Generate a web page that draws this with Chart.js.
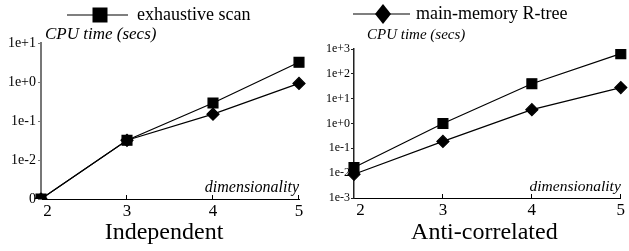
<!DOCTYPE html>
<html>
<head>
<meta charset="utf-8">
<script src="https://cdn.jsdelivr.net/npm/chart.js@4/dist/chart.umd.min.js"></script>
<style>
  html, body { margin: 0; padding: 0; background: #fff; }
  #wrap { position: relative; width: 629px; height: 251px; overflow: hidden; }
  canvas { position: absolute; top: 0; }
  #left { left: 0; }
  #right { left: 314px; }
</style>
</head>
<body>
<div id="wrap">
  <canvas id="left" width="314" height="251"></canvas>
  <canvas id="right" width="315" height="251"></canvas>
</div>
<script>
const dimensions = ['2', '3', '4', '5'];

// Independent
const indepScan = [0.001, 0.032, 0.29, 3.2];
const indepRtree = [0.001, 0.032, 0.15, 0.92];
const indepTickValues = [0.001, 0.01, 0.1, 1, 10];
const indepTickLabels = ['0', '1e-2', '1e-1', '1e+0', '1e+1'];

// Anti-correlated
const antiScan = [0.017, 1.0, 40, 650];
const antiRtree = [0.009, 0.19, 3.6, 28];
const antiTickValues = [0.001, 0.01, 0.1, 1, 10, 100, 1000];
const antiTickLabels = ['1e-3', '1e-2', '1e-1', '1e+0', '1e+1', '1e+2', '1e+3'];

const seriesNames = ['exhaustive scan', 'main-memory R-tree'];

const serif = "'Liberation Serif', 'DejaVu Serif', serif";

// legend line + marker, axis captions, upward x ticks
const extrasPlugin = {
  id: 'extras',
  afterDraw(chart, args, opts) {
    const ctx = chart.ctx;
    const area = chart.chartArea;
    ctx.save();

    // x ticks pointing up
    const xs = chart.scales.x;
    ctx.strokeStyle = '#000';
    ctx.lineWidth = 1;
    xs.ticks.forEach((t, i) => {
      if (i === 0) return;
      const px = Math.round(xs.getPixelForTick(i)) - 0.5;
      ctx.beginPath();
      ctx.moveTo(px, area.bottom);
      ctx.lineTo(px, area.bottom - 4);
      ctx.stroke();
    });

    // captions
    ctx.fillStyle = '#000';
    ctx.textBaseline = 'middle';
    ctx.font = 'italic ' + opts.yCapSize + 'px ' + serif;
    ctx.textAlign = 'left';
    ctx.fillText('CPU time (secs)', opts.yCapX, opts.yCapY);
    ctx.font = 'italic ' + opts.xCapSize + 'px ' + serif;
    ctx.textAlign = 'right';
    ctx.textBaseline = 'alphabetic';
    ctx.fillText('dimensionality', area.right, area.bottom - opts.xCapGap);

    // legend entry
    const ds = chart.data.datasets[opts.legendIndex];
    const lg = opts.legend;
    ctx.strokeStyle = '#000';
    ctx.lineWidth = 1.2;
    ctx.beginPath();
    ctx.moveTo(lg.x0, lg.y);
    ctx.lineTo(lg.x1, lg.y);
    ctx.stroke();
    ctx.fillStyle = '#000';
    ctx.beginPath();
    if (ds.pointStyle === 'rect') {
      ctx.rect(lg.mx - lg.w / 2, lg.y - lg.h / 2, lg.w, lg.h);
    } else {
      ctx.moveTo(lg.mx, lg.y - lg.h / 2);
      ctx.lineTo(lg.mx + lg.w / 2, lg.y);
      ctx.lineTo(lg.mx, lg.y + lg.h / 2);
      ctx.lineTo(lg.mx - lg.w / 2, lg.y);
      ctx.closePath();
    }
    ctx.fill();
    ctx.font = '18px ' + serif;
    ctx.textAlign = 'left';
    ctx.textBaseline = 'middle';
    ctx.fillText(ds.label, lg.tx, lg.y);
    ctx.restore();
  }
};

function makeChart(id, cfg) {
  const ctx = document.getElementById(id).getContext('2d');
  return new Chart(ctx, {
    type: 'line',
    data: {
      labels: dimensions,
      datasets: [
        {
          label: seriesNames[0],
          data: cfg.scan,
          borderColor: '#000',
          backgroundColor: '#000',
          borderWidth: 1.2,
          pointStyle: 'rect',
          pointRadius: 7,
          pointHoverRadius: 7,
          tension: 0
        },
        {
          label: seriesNames[1],
          data: cfg.rtree,
          borderColor: '#000',
          backgroundColor: '#000',
          borderWidth: 1.2,
          pointStyle: 'rectRot',
          pointRadius: 6,
          pointHoverRadius: 6,
          tension: 0
        }
      ]
    },
    options: {
      responsive: false,
      animation: false,
      devicePixelRatio: 1,
      layout: { padding: cfg.padding },
      plugins: {
        legend: { display: false },
        tooltip: { enabled: false },
        extras: cfg.extras
      },
      scales: {
        x: {
          type: 'category',
          offset: false,
          afterFit: (s) => { s.height = cfg.xHeight; },
          grid: { drawOnChartArea: false, drawTicks: false },
          border: { color: '#000', width: 1 },
          ticks: {
            color: '#000',
            padding: 2,
            maxRotation: 0,
            font: { family: serif, size: 17 },
            callback: (v, i) => (i === 0 ? '   ' : '') + dimensions[i]
          },
          title: {
            display: true,
            text: cfg.title + cfg.titleShift,
            color: '#000',
            font: { family: serif, size: 24 },
            padding: { top: 0, bottom: 4 }
          }
        },
        y: {
          type: 'logarithmic',
          min: cfg.tickValues[0],
          max: cfg.tickValues[cfg.tickValues.length - 1],
          afterFit: (s) => { s.width = cfg.yWidth; },
          afterBuildTicks: (s) => { s.ticks = cfg.tickValues.map((v) => ({ value: v })); },
          grid: { drawOnChartArea: false, drawTicks: true, tickLength: 3, color: cfg.yColor },
          border: { color: cfg.yColor, width: cfg.yBorder },
          ticks: {
            color: '#000',
            padding: cfg.yPad,
            font: { family: serif, size: cfg.yFont },
            callback: (v) => {
              const i = cfg.tickValues.findIndex((t) => Math.abs(Math.log10(t) - Math.log10(v)) < 1e-6);
              return i >= 0 ? cfg.tickLabels[i] : '';
            }
          }
        }
      }
    },
    plugins: [extrasPlugin]
  });
}

makeChart('left', {
  scan: indepScan,
  rtree: indepRtree,
  tickValues: indepTickValues,
  tickLabels: indepTickLabels,
  title: 'Independent',
  titleShift: '  ',
  padding: { left: 0, top: 43, right: 15, bottom: 0 },
  xHeight: 52,
  yWidth: 41,
  yColor: '#777',
  yBorder: 2,
  yPad: 2,
  yFont: 14,
  extras: {
    legendIndex: 0,
    legend: { x0: 67, x1: 128, mx: 100, y: 15, w: 15, h: 15, tx: 137 },
    yCapX: 45, yCapY: 35, yCapSize: 17,
    xCapSize: 16, xCapGap: 7
  }
});

makeChart('right', {
  scan: antiScan,
  rtree: antiRtree,
  tickValues: antiTickValues,
  tickLabels: antiTickLabels,
  title: 'Anti-correlated',
  titleShift: ' ',
  padding: { left: 0, top: 49, right: 5, bottom: 0 },
  xHeight: 53,
  yWidth: 40,
  yColor: '#222',
  yBorder: 1.5,
  yPad: 1,
  yFont: 12,
  extras: {
    legendIndex: 1,
    legend: { x0: 39, x1: 96, mx: 69, y: 14, w: 16, h: 20, tx: 102 },
    yCapX: 53, yCapY: 35, yCapSize: 15,
    xCapSize: 15.5, xCapGap: 7
  }
});
</script>
</body>
</html>
